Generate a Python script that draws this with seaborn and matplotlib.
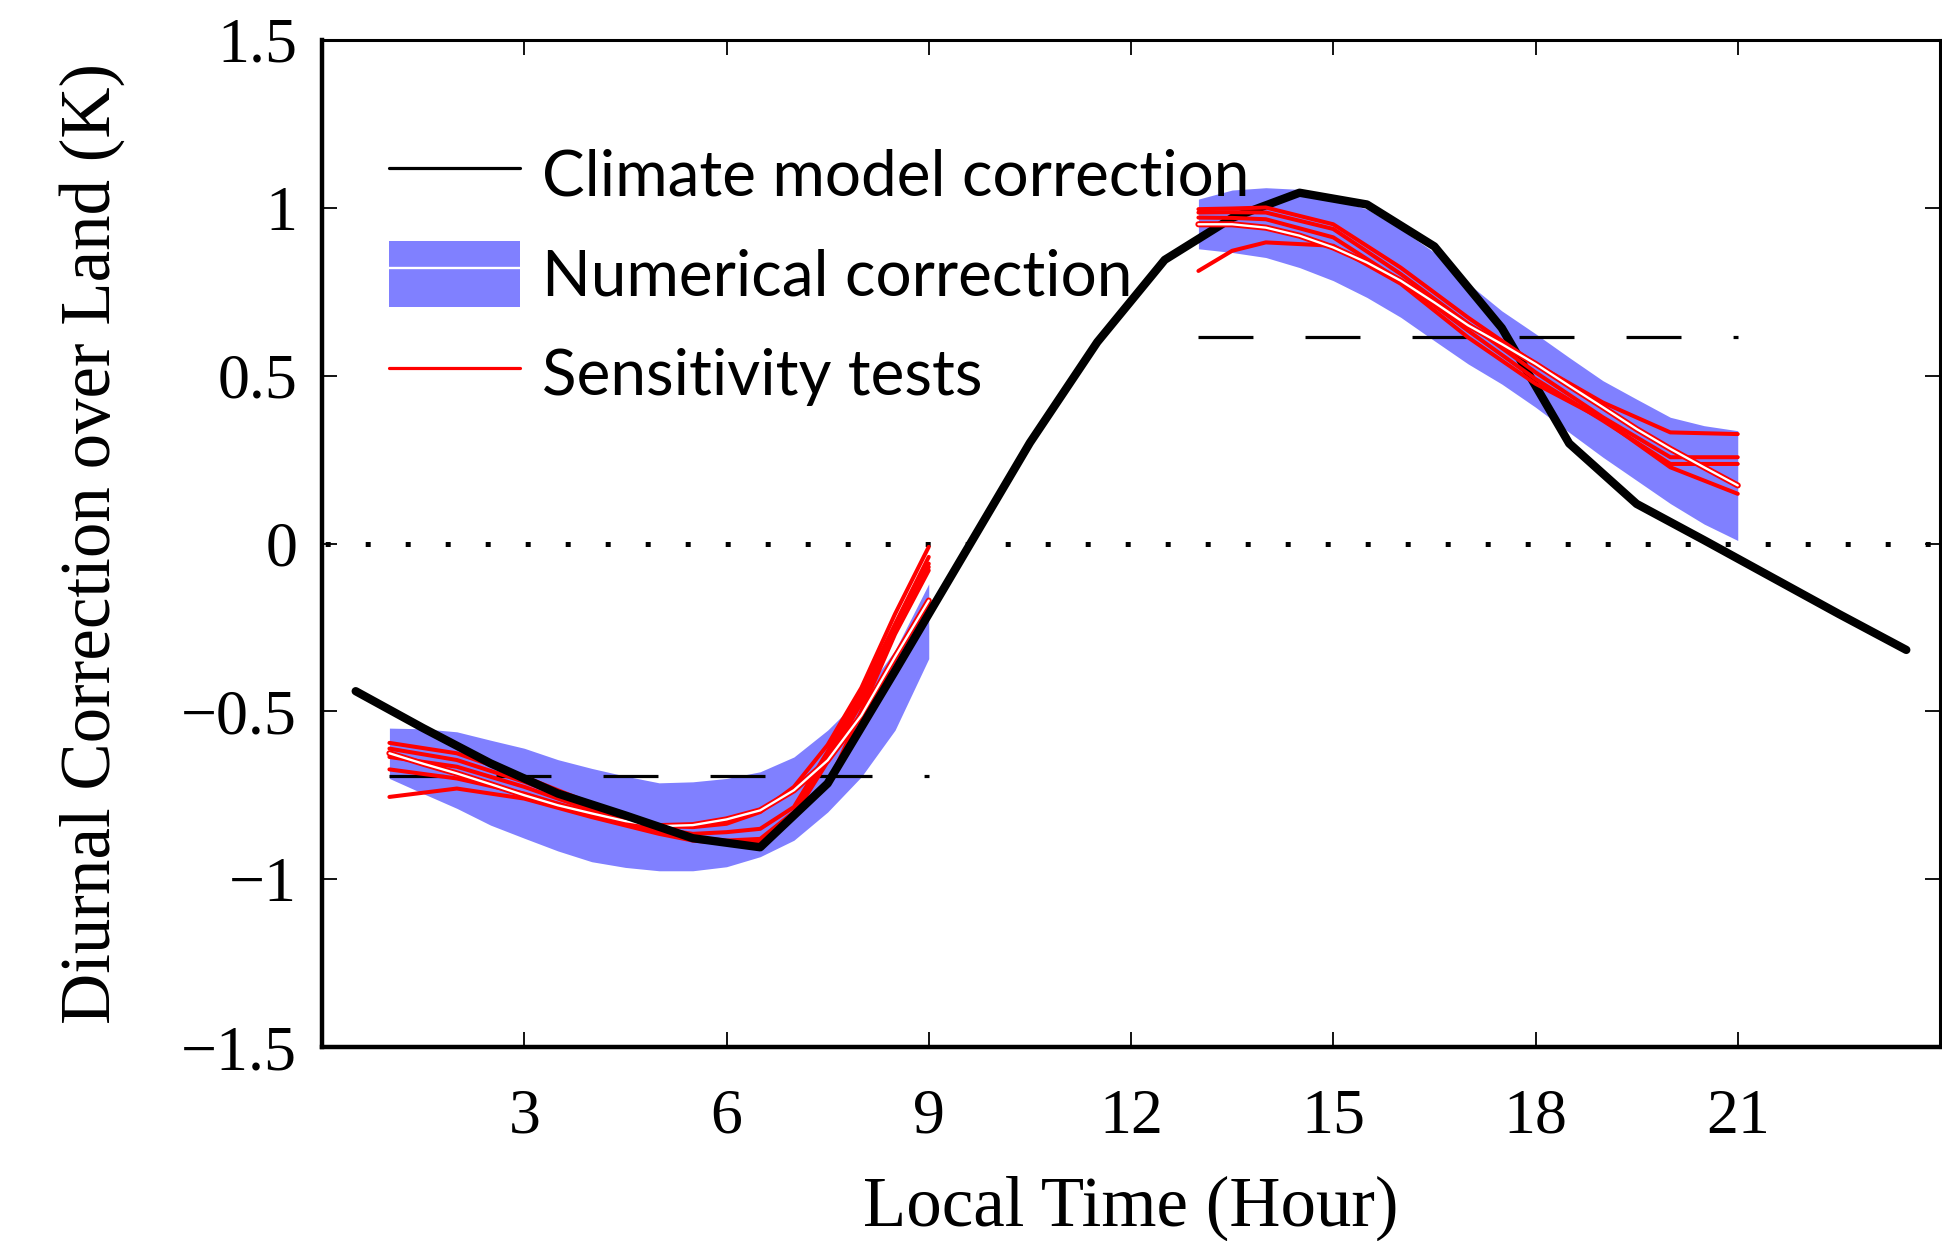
import numpy as np
import pandas as pd
import matplotlib
matplotlib.use("Agg")
import matplotlib.pyplot as plt
import seaborn as sns
from matplotlib.patches import Patch
from matplotlib.lines import Line2D

# ---------------- data ----------------
model_hours = [0.5, 1.5, 2.5, 3.5, 4.5, 5.5, 6.5, 7.5, 8.5, 9.5, 10.5, 11.5,
               12.5, 13.5, 14.5, 15.5, 16.5, 17.5, 18.5, 19.5, 20.5, 21.5, 22.5, 23.5]
model_corr = [-0.44, -0.55, -0.655, -0.745, -0.81, -0.878, -0.905, -0.715, -0.38, -0.04,
              0.30, 0.60, 0.845, 0.97, 1.045, 1.01, 0.885, 0.642, 0.298, 0.118,
              0.01, -0.10, -0.21, -0.317]

# morning window (numerical correction)
am_hours = [1, 1.5, 2, 2.5, 3, 3.5, 4, 4.5, 5, 5.5, 6, 6.5, 7, 7.5, 8, 8.5, 9]
am_mean = [-0.625, -0.656, -0.685, -0.717, -0.75, -0.78, -0.804, -0.827, -0.842, -0.839,
           -0.822, -0.795, -0.735, -0.646, -0.512, -0.338, -0.17]
am_upper = [-0.55, -0.552, -0.561, -0.586, -0.61, -0.644, -0.67, -0.693, -0.713, -0.71,
            -0.70, -0.68, -0.636, -0.556, -0.457, -0.318, -0.12]
am_lower = [-0.70, -0.745, -0.789, -0.839, -0.878, -0.916, -0.948, -0.965, -0.975, -0.975,
            -0.963, -0.933, -0.884, -0.80, -0.695, -0.556, -0.343]

# afternoon window (numerical correction)
pm_hours = [13, 13.5, 14, 14.5, 15, 15.5, 16, 16.5, 17, 17.5, 18, 18.5, 19, 19.5, 20, 20.5, 21]
pm_mean = [0.951, 0.951, 0.941, 0.917, 0.882, 0.837, 0.783, 0.718, 0.65, 0.594, 0.535,
           0.47, 0.406, 0.341, 0.282, 0.227, 0.173]
pm_upper = [1.026, 1.053, 1.06, 1.055, 1.026, 0.996, 0.937, 0.867, 0.775, 0.693, 0.625,
            0.554, 0.485, 0.43, 0.376, 0.351, 0.336]
pm_lower = [0.878, 0.867, 0.852, 0.822, 0.783, 0.733, 0.674, 0.604, 0.535, 0.475, 0.406,
            0.331, 0.257, 0.188, 0.119, 0.058, 0.009]

# sensitivity tests, morning
am_test_hours = [1, 2, 3, 4, 5, 5.5, 6, 6.5, 7, 7.5, 8, 8.5, 9]
am_test1 = [-0.594, -0.625, -0.695, -0.775, -0.84, -0.845, -0.835, -0.80, -0.725, -0.60, -0.43, -0.21, -0.01]
am_test2 = [-0.611, -0.645, -0.71, -0.785, -0.85, -0.865, -0.86, -0.85, -0.785, -0.62, -0.445, -0.24, -0.04]
am_test3 = [-0.636, -0.665, -0.725, -0.795, -0.855, -0.875, -0.885, -0.88, -0.80, -0.63, -0.46, -0.26, -0.06]
am_test4 = [-0.673, -0.70, -0.745, -0.805, -0.86, -0.88, -0.89, -0.895, -0.815, -0.72, -0.50, -0.27, -0.08]
am_test5 = [-0.755, -0.73, -0.76, -0.815, -0.865, -0.885, -0.893, -0.89, -0.81, -0.65, -0.475, -0.265, -0.07]

# sensitivity tests, afternoon
pm_test_hours = [13, 13.5, 14, 15, 16, 17, 18, 19, 20, 21]
pm_test1 = [0.996, 0.998, 1.001, 0.951, 0.822, 0.673, 0.535, 0.42, 0.331, 0.326]
pm_test2 = [0.986, 0.987, 0.986, 0.937, 0.803, 0.655, 0.51, 0.376, 0.257, 0.257]
pm_test3 = [0.971, 0.970, 0.966, 0.912, 0.783, 0.634, 0.49, 0.366, 0.237, 0.237]
pm_test4 = [0.812, 0.872, 0.897, 0.887, 0.774, 0.614, 0.476, 0.37, 0.227, 0.148]

# window averages (dashed)
avg_levels = [-0.693, 0.615]
avg_start = [1, 13]
avg_end = [9, 21]

x_ticks = [3, 6, 9, 12, 15, 18, 21]
y_ticks = [-1.5, -1, -0.5, 0, 0.5, 1, 1.5]
y_tick_labels = ["\u22121.5", "\u22121", "\u22120.5", "0", "0.5", "1", "1.5"]

legend_labels = ["Climate model correction", "Numerical correction", "Sensitivity tests"]
x_label = "Local Time (Hour)"
y_label = "Diurnal Correction over Land (K)"

# ---------------- styling ----------------
sns.set_theme(style="ticks")
plt.rcParams['font.family'] = ['Liberation Serif', 'DejaVu Serif']
plt.rcParams['axes.unicode_minus'] = True
plt.rcParams['text.color'] = 'black'
plt.rcParams['axes.labelcolor'] = 'black'
plt.rcParams['xtick.color'] = 'black'
plt.rcParams['ytick.color'] = 'black'

BAND = "#8080FF"

fig = plt.figure(figsize=(19.42, 12.41), dpi=100)
ax = fig.add_axes([322 / 1942, 1 - 1047 / 1241, (1940 - 322) / 1942, (1047 - 40) / 1241])

# zero line (dotted)
ax.axhline(0, color="black", linewidth=3.6, linestyle=(7.36, (1, 7)), zorder=1.6,
           dash_capstyle="butt")
# window averages (dashed)
for lev, s, e in zip(avg_levels, avg_start, avg_end):
    ln, = ax.plot([s, e], [lev, lev], color="black", linewidth=2.3, zorder=1.6)
    ln.set_dashes((17.2, 16.3))

# bands
ax.fill_between(am_hours, am_lower, am_upper, color=BAND, linewidth=0, zorder=1)
ax.fill_between(pm_hours, pm_lower, pm_upper, color=BAND, linewidth=0, zorder=1)

# morning sensitivity tests (under the black line)
for t in [am_test1, am_test2, am_test3, am_test4, am_test5]:
    sns.lineplot(x=am_test_hours, y=t, color="red", linewidth=2.9, ax=ax, zorder=2)
sns.lineplot(x=am_hours, y=am_mean, color="red", linewidth=4.4, ax=ax, zorder=2.1)
sns.lineplot(x=am_hours, y=am_mean, color="white", linewidth=1.7, ax=ax, zorder=2.2)

# climate model line
sns.lineplot(x=model_hours, y=model_corr, color="black", linewidth=6.0, ax=ax, zorder=3)

# afternoon sensitivity tests (over the black line)
for t in [pm_test1, pm_test2, pm_test3, pm_test4]:
    sns.lineplot(x=pm_test_hours, y=t, color="red", linewidth=2.9, ax=ax, zorder=4)
sns.lineplot(x=pm_hours, y=pm_mean, color="red", linewidth=4.4, ax=ax, zorder=4.1)
sns.lineplot(x=pm_hours, y=pm_mean, color="white", linewidth=1.7, ax=ax, zorder=4.2)

# axes
ax.set_xlim(0, 24)
ax.set_ylim(-1.5, 1.5)
ax.set_xticks(x_ticks)
ax.set_xticklabels([str(v) for v in x_ticks])
ax.set_yticks(y_ticks)
ax.set_yticklabels(y_tick_labels)
ax.tick_params(axis="both", which="both", direction="in", top=True, right=True,
               length=11, width=1.3, colors="black", labelsize=46)
ax.tick_params(axis="y", pad=18)
ax.tick_params(axis="x", pad=30)
for side in ["left", "bottom"]:
    ax.spines[side].set_linewidth(3.2)
for side in ["top", "right"]:
    ax.spines[side].set_linewidth(2.2)
for s in ax.spines.values():
    s.set_color("black")
    s.set_visible(True)

ax.set_xlabel(x_label, fontsize=51, color="black")
ax.set_ylabel(y_label, fontsize=51, color="black")
ax.xaxis.set_label_coords(0.5, -0.128)
ax.yaxis.set_label_coords(-0.122, 0.5)

# legend
h_model = Line2D([], [], color="black", linewidth=2.3)
h_num = (Patch(facecolor=BAND, edgecolor="none"), Line2D([], [], color="white", linewidth=1.7))
h_sens = Line2D([], [], color="red", linewidth=2.3)
leg = ax.legend([h_model, h_num, h_sens], legend_labels,
                loc="upper left", bbox_to_anchor=(389 / 1942, 1 - 141 / 1241),
                bbox_transform=fig.transFigure, frameon=False,
                prop={"family": ["Lato", "DejaVu Sans"], "size": 46},
                handlelength=2.05, handleheight=1.212, handletextpad=0.34,
                labelspacing=0.53, borderpad=0, borderaxespad=0, labelcolor="black")

fig.savefig("out.png", dpi=100, facecolor="white")
